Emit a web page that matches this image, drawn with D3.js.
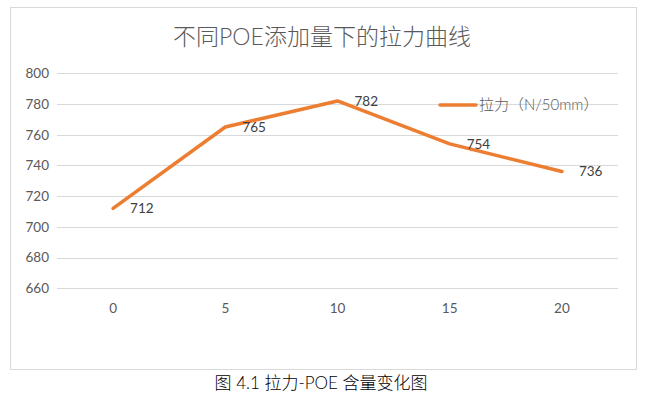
<!DOCTYPE html>
<html><head><meta charset="utf-8">
<script src="https://cdn.jsdelivr.net/npm/d3@7"></script>
<style>body{margin:0;background:#fff;}svg{display:block;}</style>
</head><body>
<svg id="c" width="648" height="397"></svg>
<script>
const categories = ["0", "5", "10", "15", "20"];
const values = [712, 765, 782, 754, 736];
const yTicks = [660, 680, 700, 720, 740, 760, 780, 800];
const seriesName = "拉力（N/50mm）";
const title = "不同POE添加量下的拉力曲线";
const caption = "图 4.1 拉力-POE 含量变化图";

const font = "Lato, 'Noto Sans CJK SC', sans-serif";
const svg = d3.select("#c");
svg.append("rect").attr("x", 10.5).attr("y", 7.5).attr("width", 626).attr("height", 362)
  .attr("fill", "#fff").attr("stroke", "#d9d9d9").attr("stroke-width", 1);

const x = d3.scaleBand().domain(categories).range([57, 618]);
const y = d3.scaleLinear().domain([660, 800]).range([288.2, 73.3]);

// gridlines
svg.append("g").selectAll("line").data(yTicks).join("line")
  .attr("x1", 57).attr("x2", 618)
  .attr("y1", d => Math.round(y(d)) + 0.5).attr("y2", d => Math.round(y(d)) + 0.5)
  .attr("stroke", "#d9d9d9").attr("stroke-width", 1);

// y axis
const yAxis = svg.append("g").attr("transform", "translate(49,0)")
  .call(d3.axisLeft(y).tickValues(yTicks).tickSize(0).tickPadding(0));
yAxis.select(".domain").remove();
yAxis.selectAll("text").attr("font-family", font).attr("font-size", 13.5).attr("fill", "#595959");

// x axis
const xAxis = svg.append("g").attr("transform", "translate(0,303)")
  .call(d3.axisBottom(x).tickSize(0).tickPadding(0));
xAxis.select(".domain").remove();
xAxis.selectAll("text").attr("font-family", font).attr("font-size", 13.5).attr("fill", "#595959");

// line
const line = d3.line().x((d, i) => x(categories[i]) + x.bandwidth() / 2).y(d => y(d));
svg.append("path").datum(values).attr("d", line)
  .attr("fill", "none").attr("stroke", "#ED7D31").attr("stroke-width", 3.5)
  .attr("stroke-linejoin", "round").attr("stroke-linecap", "round");

// data labels
svg.append("g").selectAll("text").data(values).join("text")
  .attr("x", (d, i) => x(categories[i]) + x.bandwidth() / 2 + 17)
  .attr("y", d => y(d)).attr("dy", "0.35em")
  .attr("font-family", font).attr("font-size", 13.5).attr("fill", "#404040")
  .text(d => d);

// title
svg.append("text").attr("x", 322).attr("y", 45).attr("text-anchor", "middle")
  .attr("font-family", font).attr("font-size", 23).attr("font-weight", 300)
  .attr("fill", "#595959").text(title);

// legend
svg.append("line").attr("x1", 440).attr("x2", 476).attr("y1", 105).attr("y2", 105)
  .attr("stroke", "#ED7D31").attr("stroke-width", 3.5).attr("stroke-linecap", "round");
svg.append("text").attr("x", 479).attr("y", 105).attr("dy", "0.35em")
  .attr("font-family", font).attr("font-size", 15).attr("font-weight", 300)
  .attr("fill", "#595959").text(seriesName);

// caption
svg.append("text").attr("x", 321).attr("y", 389).attr("text-anchor", "middle")
  .attr("font-family", font).attr("font-size", 17).attr("font-weight", 300)
  .attr("fill", "#000").text(caption);
</script>
</body></html>
